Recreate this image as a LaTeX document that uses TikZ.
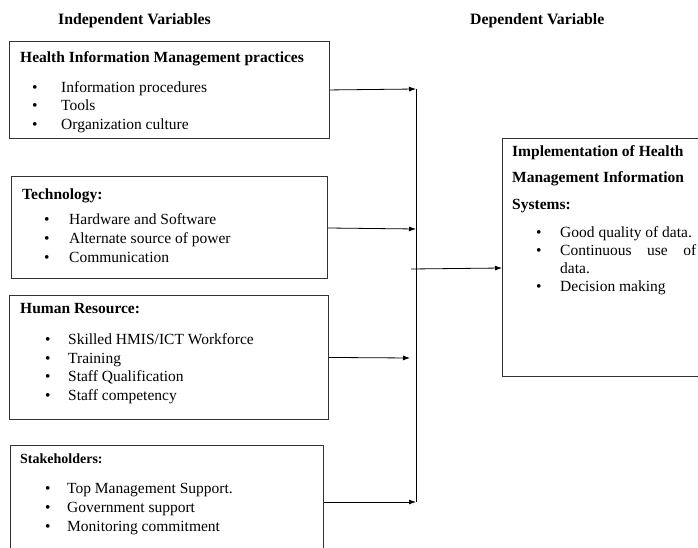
\documentclass[tikz,border=0pt]{standalone}
\usepackage{fontspec}
\setmainfont{Liberation Serif}
\usetikzlibrary{arrows.meta}
\tikzset{
  boxframe/.style={draw=black!80, line width=0.9pt, anchor=north west, inner sep=0pt},
  lbl/.style={anchor=mid west, inner sep=0pt, yshift=-2.5pt, font=\fontsize{15.5}{17}\selectfont},
  ttl/.style={anchor=mid west, inner sep=0pt, yshift=-2pt, font=\fontsize{15.5}{17}\selectfont\bfseries},
  hdr/.style={anchor=mid west, inner sep=0pt, yshift=-2.5pt, font=\fontsize{15.8}{17}\selectfont\bfseries},
  conn/.style={line width=0.8pt, -{Latex[length=7pt,width=5pt]}},
  plain/.style={line width=0.8pt}
}
\newcommand{\bul}[1]{\makebox[#1][l]{\textbullet}}
\begin{document}
\begin{tikzpicture}[x=1pt,y=-1pt]
\clip (0,0) rectangle (698,548);
\fill[white] (0,0) rectangle (698,548);
% headers
\node[hdr] (h1) at (58,20) {Independent Variables};
\node[hdr] (h2) at (470,20) {Dependent Variable};
% boxes
\node[boxframe, minimum width=320pt, minimum height=97pt] (b1) at (9,41) {};
\node[boxframe, minimum width=316pt, minimum height=102pt] (b2) at (11,176) {};
\node[boxframe, minimum width=319pt, minimum height=124pt] (b3) at (9,295) {};
\node[boxframe, minimum width=313pt, minimum height=114pt] (b4) at (10,445) {};
\node[boxframe, minimum width=220pt, minimum height=238pt] (d) at (502,138) {};
% box 1
\node[ttl] (t1) at (20,58) {Health Information Management practices};
\node[lbl] (i11) at (32,88) {\bul{29pt}Information procedures};
\node[lbl] (i12) at (32,106) {\bul{29pt}Tools};
\node[lbl] (i13) at (32,125) {\bul{29pt}Organization culture};
% box 2
\node[ttl] (t2) at (22,195) {Technology:};
\node[lbl] (i21) at (44,220) {\bul{25pt}Hardware and Software};
\node[lbl] (i22) at (44,239) {\bul{25pt}Alternate source of power};
\node[lbl] (i23) at (44,258) {\bul{25pt}Communication};
% box 3
\node[ttl] (t3) at (20,309) {Human Resource:};
\node[lbl] (i31) at (45,340) {\bul{23pt}Skilled HMIS/ICT Workforce};
\node[lbl] (i32) at (45,359) {\bul{23pt}Training};
\node[lbl] (i33) at (45,377) {\bul{23pt}Staff Qualification};
\node[lbl] (i34) at (45,396) {\bul{23pt}Staff competency};
% box 4
\node[ttl, font=\fontsize{14}{16}\selectfont\bfseries] (t4) at (20,459) {Stakeholders:};
\node[lbl] (i41) at (45,489) {\bul{22pt}Top Management Support.};
\node[lbl] (i42) at (45,508) {\bul{22pt}Government support};
\node[lbl] (i43) at (45,527) {\bul{22pt}Monitoring commitment};
% dependent box
\node[ttl] (dt1) at (512,152) {Implementation of Health};
\node[ttl] (dt2) at (512,178) {Management Information};
\node[ttl] (dt3) at (512,205) {Systems:};
\node[lbl] (di1) at (536,233) {\bul{24pt}Good quality of data.};
\node[lbl] (di2) at (536,251) {\bul{24pt}\makebox[136pt][s]{Continuous use of}};
\node[lbl] (di3) at (560,269) {data.};
\node[lbl] (di4) at (536,287) {\bul{24pt}Decision making};
% connectors
\coordinate (vtop) at (416,89);
\coordinate (vbot) at (416,502);
\coordinate (a3) at (410,358);
\coordinate (mid) at (411,269);
\draw[plain] (vtop) -- (vbot);
\draw[conn] (b1.east) -- (vtop);
\draw[conn] (b2.east |- 0,228) -- (416,229);
\draw[conn] (b3.east) -- (a3);
\draw[conn] (b4.east |- 0,502) -- (vbot);
\draw[conn] (mid) -- (d.west |- 0,268);
\end{tikzpicture}
\end{document}
